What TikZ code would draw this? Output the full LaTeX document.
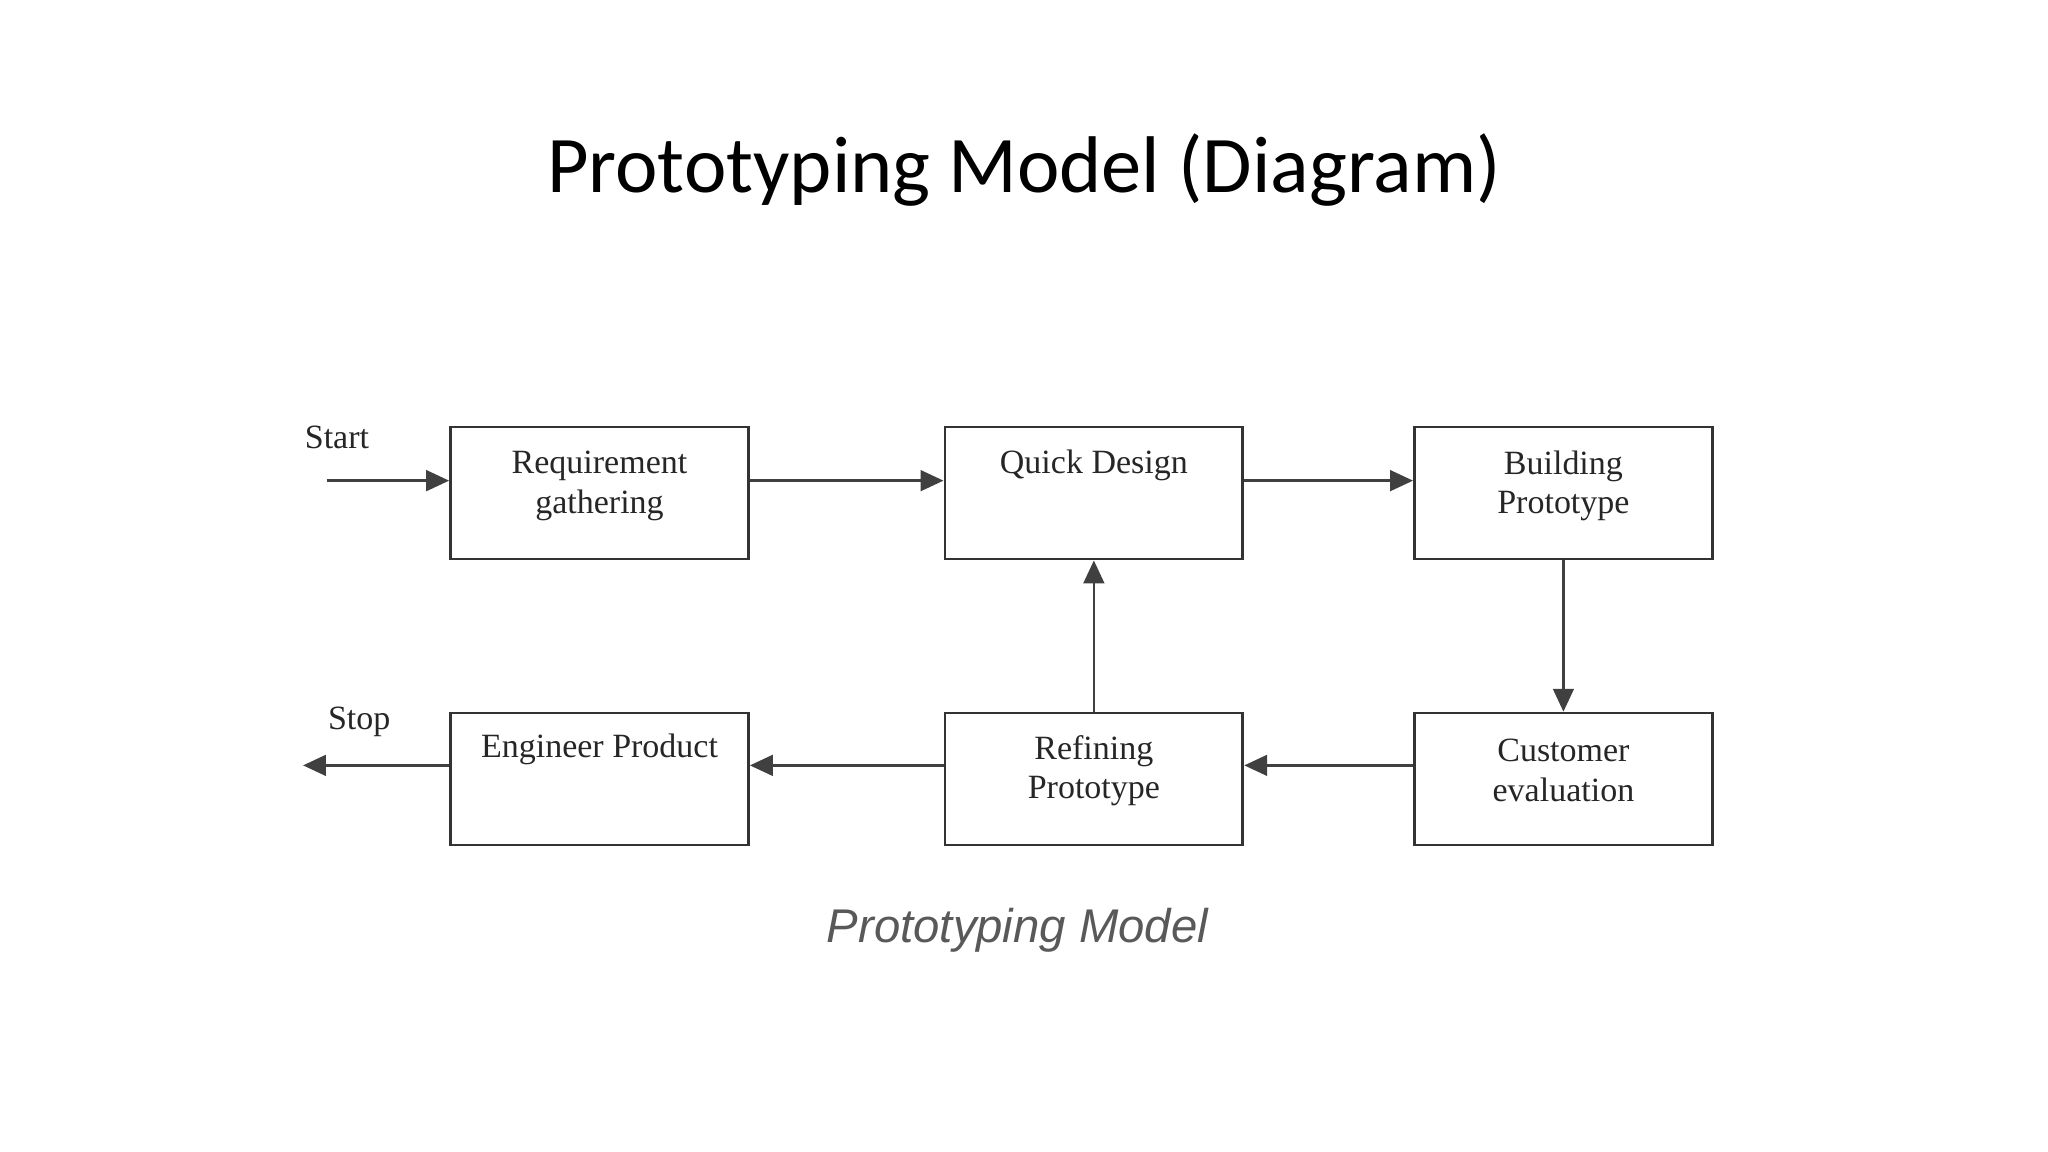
\documentclass[tikz,border=0pt]{standalone}
\usepackage{fontspec}
\setmainfont{Liberation Serif}
\newfontfamily\titlefont{Carlito}
\newfontfamily\capfont{Liberation Sans}
\usetikzlibrary{arrows.meta}
\begin{document}
\begin{tikzpicture}[x=0.01cm,y=-0.01cm,
  box/.style={draw=black!80,line width=0.6pt,minimum width=2.28cm,minimum height=1.01cm,inner sep=0pt},
  lbl/.style={font=\fontsize{7.4}{8.6}\selectfont,align=center,text=black!85},
  arr/.style={draw=black!75,line width=0.6pt,-{Triangle[length=5pt,width=4.5pt]}}]
\useasboundingbox (0,0) rectangle (1568,882);
\node[font=\titlefont\fontsize{17.5}{20}\selectfont] (title) at (784,130) {Prototyping Model (Diagram)};
\node[box] (req) at (459,377.5) {};
\node[box] (qd) at (837.5,377.5) {};
\node[box] (bp) at (1197,377.5) {};
\node[box] (ep) at (459,596.5) {};
\node[box] (rp) at (837.5,596.5) {};
\node[box] (ce) at (1197,596.5) {};
\node[lbl] at (459,372) {Requirement\\gathering};
\node[lbl] at (837.5,356) {Quick Design};
\node[lbl] at (1197,372) {Building\\Prototype};
\node[lbl] at (459,574) {Engineer Product};
\node[lbl] at (837.5,590) {Refining\\Prototype};
\node[lbl] at (1197,590) {Customer\\evaluation};
\node[lbl] at (258,335) {Start};
\node[lbl] at (275,553) {Stop};
\coordinate (s) at (250,368);
\coordinate (e) at (232,586);
\draw[arr] (s) -- (req.west |- s);
\draw[arr] (req.east |- s) -- (qd.west |- s);
\draw[arr] (qd.east |- s) -- (bp.west |- s);
\draw[arr] (bp.south) -- (ce.north);
\draw[arr] (ce.west |- e) -- (rp.east |- e);
\draw[arr] (rp.north) -- (qd.south);
\draw[arr] (rp.west |- e) -- (ep.east |- e);
\draw[arr] (ep.west |- e) -- (e);
\node[font=\capfont\itshape\fontsize{10.3}{12}\selectfont,text=black!65] (cap) at (779,712) {Prototyping Model};
\end{tikzpicture}
\end{document}
